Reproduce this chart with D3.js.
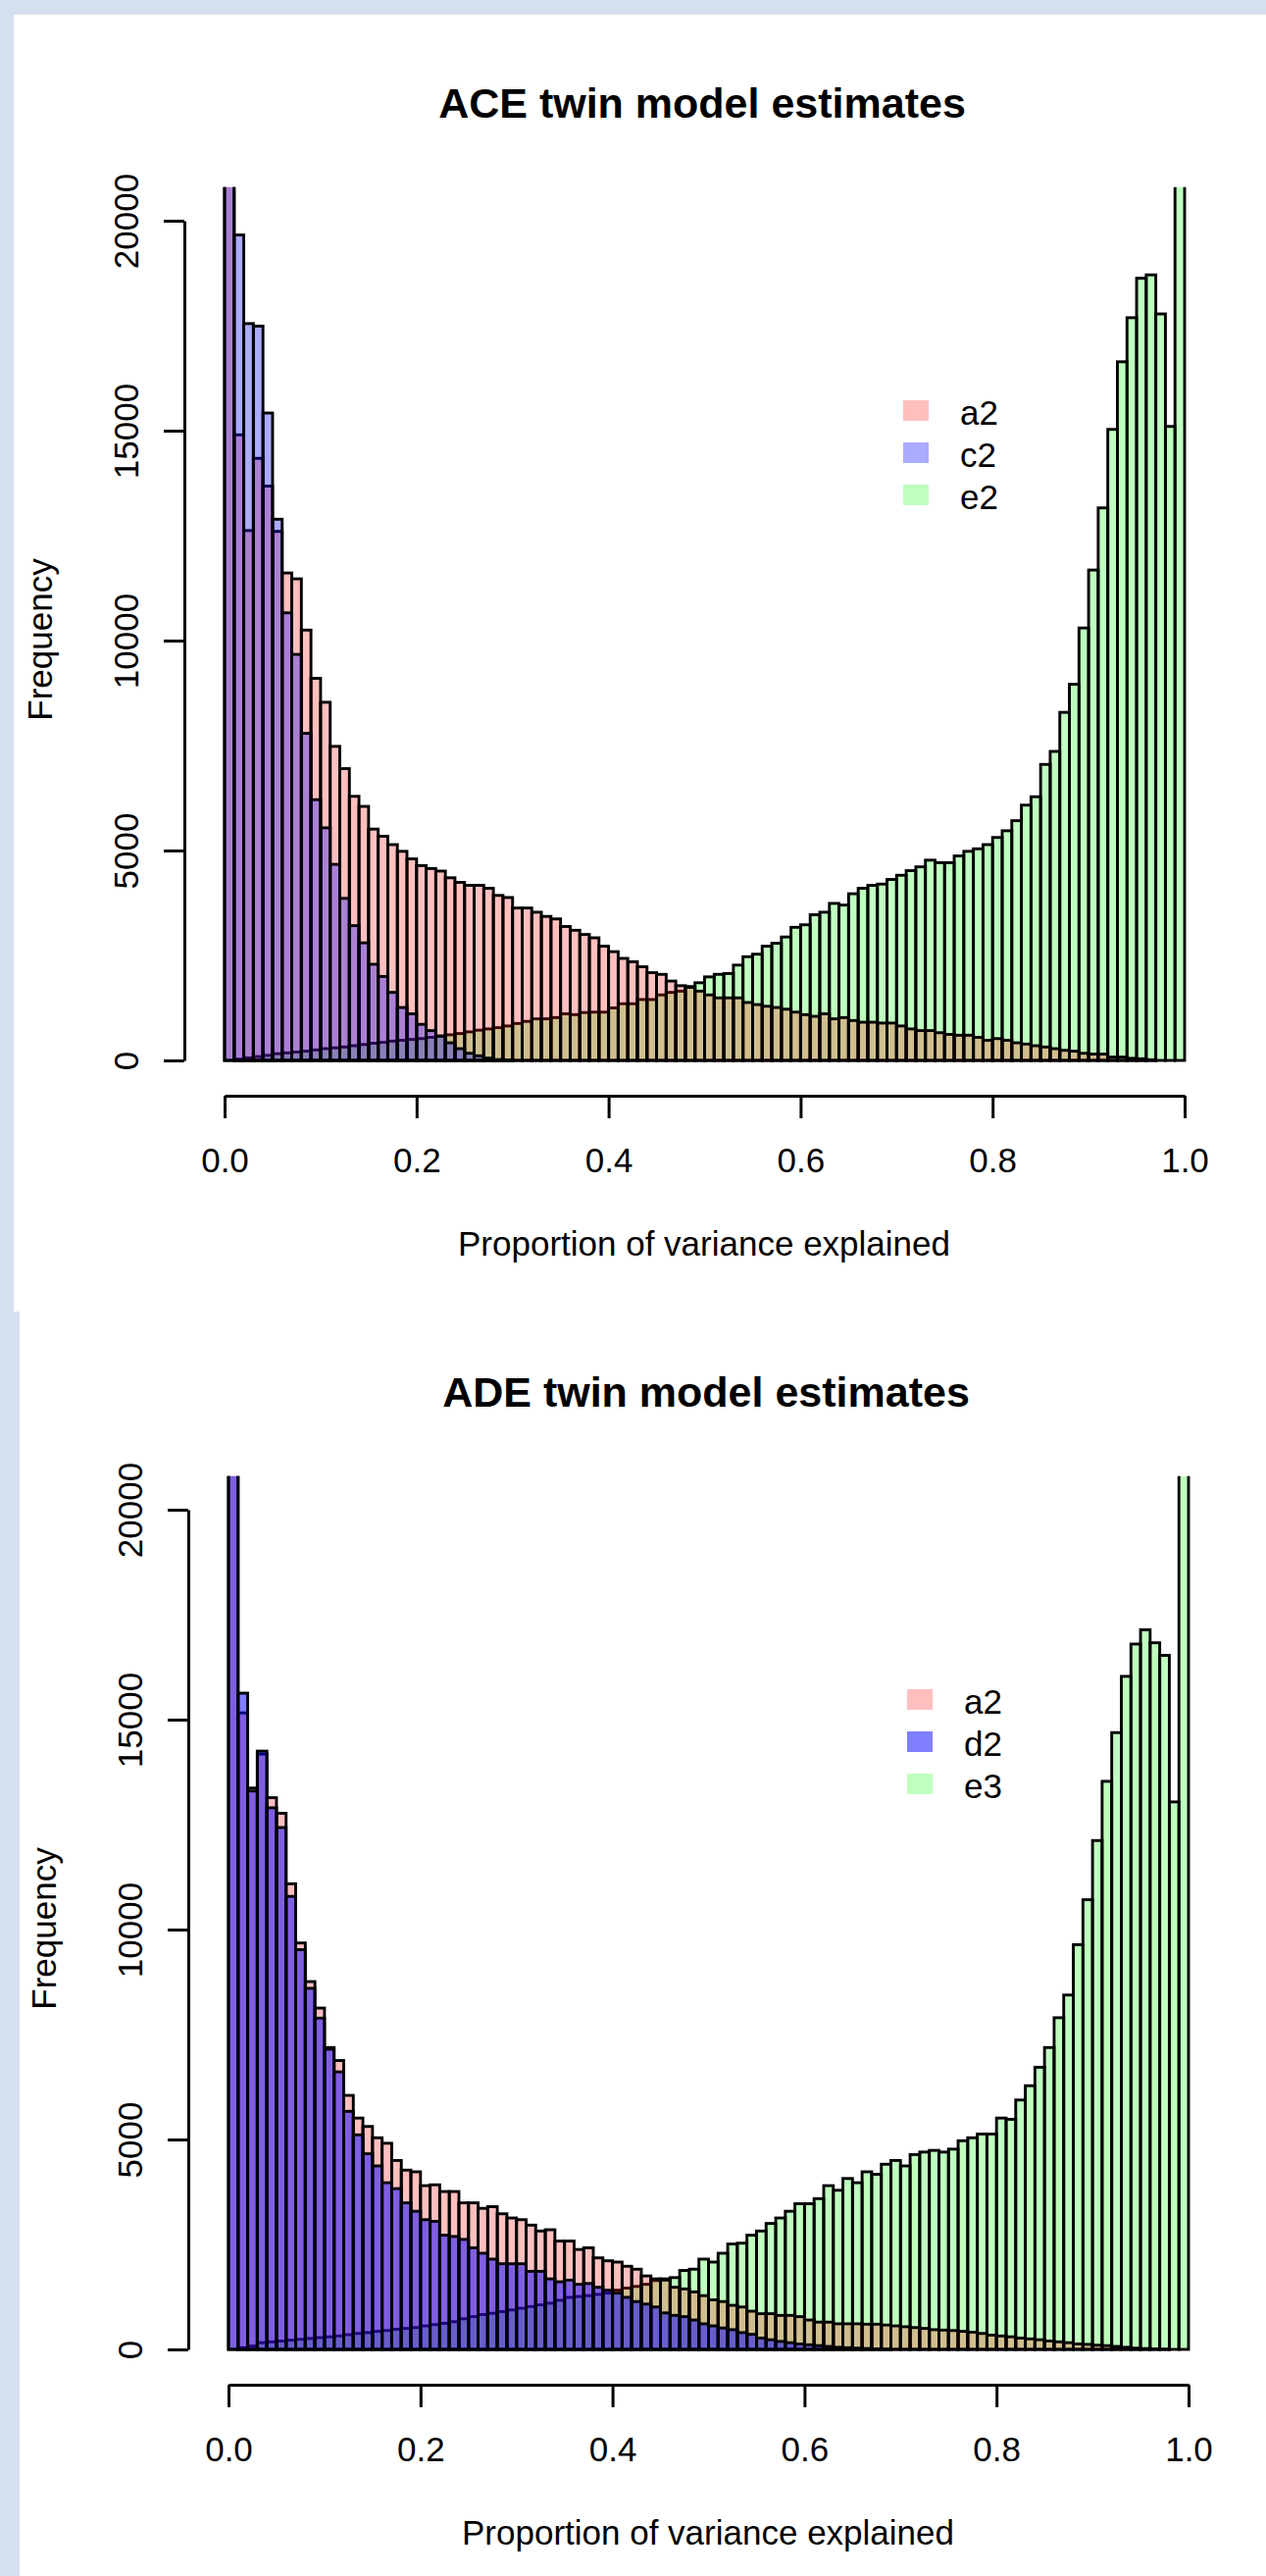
<!DOCTYPE html>
<html>
<head>
<meta charset="utf-8">
<script src="https://cdn.jsdelivr.net/npm/d3@7"></script>
<style>
  body { margin: 0; background: #d5e0ee; }
  svg { display: block; }
  text { font-family: "Liberation Sans", Arial, sans-serif; fill: #000; }
</style>
</head>
<body>
<svg id="chart" width="1291" height="2626"></svg>
<script>
// histogram counts, 100 bins of width 0.01 from 0 to 1
var aceA2 = [24000,14900,12620,14340,13680,12600,11610,11470,10250,9100,
  8530,7480,6950,6290,6050,5510,5340,5140,4980,4800,
  4640,4570,4510,4350,4240,4170,4170,4100,3930,3880,
  3630,3630,3530,3430,3370,3190,3100,3000,2920,2720,
  2590,2430,2350,2230,2090,2050,1890,1780,1740,1650,
  1560,1490,1490,1490,1380,1330,1290,1260,1220,1150,
  1090,1050,1110,990,1020,950,910,910,890,890,
  820,750,710,710,660,620,600,600,550,480,
  520,480,420,390,350,320,280,240,220,170,
  150,150,80,80,50,40,15,0,0,0];
var aceC2 = [30000,19660,17550,17490,15420,12890,10660,9670,7790,6210,
  5540,4670,3860,3210,2800,2290,2000,1620,1260,1110,
  860,710,580,420,280,170,110,55,20,10,
  0,0,0,0,0,0,0,0,0,0,
  0,0,0,0,0,0,0,0,0,0,
  0,0,0,0,0,0,0,0,0,0,
  0,0,0,0,0,0,0,0,0,0,
  0,0,0,0,0,0,0,0,0,0,
  0,0,0,0,0,0,0,0,0,0,
  0,0,0,0,0,0,0,0,0,0];
var aceE2 = [0,30,60,90,120,160,180,200,220,250,
  280,300,320,350,380,410,430,460,480,500,
  520,550,580,610,640,680,720,750,780,820,
  880,930,990,990,1020,1110,1090,1140,1150,1150,
  1250,1350,1350,1450,1450,1560,1620,1650,1760,1850,
  1990,2050,2070,2270,2470,2530,2720,2790,2940,3170,
  3230,3470,3530,3740,3700,3970,4100,4170,4200,4310,
  4410,4520,4610,4770,4710,4710,4870,4980,5040,5140,
  5310,5470,5710,6080,6280,7050,7360,8290,8960,10300,
  11680,13160,15030,16640,17690,18630,18710,17780,15100,32000];

var adeA2 = [26000,15160,13370,14180,13140,12770,11090,9680,8760,8130,
  7190,6880,6050,5510,5310,5040,4910,4500,4270,4230,
  3900,3920,3760,3760,3490,3490,3360,3400,3230,3130,
  3090,2960,2820,2850,2580,2580,2380,2420,2180,2110,
  2080,1980,1910,1750,1680,1650,1480,1440,1370,1280,
  1180,1140,1050,1010,910,850,850,810,810,780,
  700,650,650,610,610,610,600,600,580,560,
  540,520,500,470,460,450,430,410,380,340,
  320,300,270,250,230,200,180,160,130,120,
  100,90,70,50,30,20,10,5,0,0];
var adeD2 = [30000,15630,13300,14250,12900,12430,10790,9520,8600,7890,
  7150,6610,5670,5110,4660,4370,3970,3830,3490,3290,
  3090,3050,2720,2690,2620,2420,2290,2150,2040,2040,
  2040,1860,1860,1680,1610,1650,1550,1570,1480,1410,
  1340,1240,1140,1080,1010,870,810,780,700,610,
  560,510,470,400,360,270,230,190,160,130,
  110,90,70,50,40,30,20,10,5,0,
  0,0,0,0,0,0,0,0,0,0,
  0,0,0,0,0,0,0,0,0,0,
  0,0,0,0,0,0,0,0,0,0];
var adeE3 = [0,40,80,160,180,200,220,240,260,280,
  300,320,350,380,400,430,450,480,500,520,
  560,590,620,660,730,780,830,860,900,940,
  980,1020,1060,1100,1170,1240,1260,1280,1310,1340,
  1410,1460,1500,1550,1640,1680,1710,1880,1910,2150,
  2080,2290,2510,2530,2720,2820,3000,3130,3290,3470,
  3470,3590,3900,3790,4070,3970,4230,4170,4410,4500,
  4370,4640,4700,4740,4700,4770,4970,5040,5130,5130,
  5510,5480,5940,6280,6720,7190,7900,8440,9640,10710,
  12120,13530,14690,16030,16800,17140,16830,16530,13040,30000];

var xTicks = [0, 0.2, 0.4, 0.6, 0.8, 1.0];
var yTicks = [0, 5000, 10000, 15000, 20000];
var yMax = 20000;
var binWidth = 0.01;

var svg = d3.select('#chart');

// white panels behind each plot
svg.append('rect').attr('x', 14).attr('y', 15).attr('width', 1277).attr('height', 1322).attr('fill', '#fff');
svg.append('rect').attr('x', 20).attr('y', 1337).attr('width', 1271).attr('height', 1289).attr('fill', '#fff');

function drawPanel(p) {
    var g = svg.append('g').attr('transform', 'translate(' + p.dx + ',' + p.dy + ')');

    var x = d3.scaleLinear().domain([0, 1]).range([229, 1208]);
    var y = d3.scaleLinear().domain([0, yMax]).range([1081, 225]);

    // clip bars at the top of the plotting region (ylim + 4%)
    var clipId = 'clip' + p.id;
    g.append('clipPath').attr('id', clipId)
        .append('rect')
        .attr('x', 150).attr('y', y(yMax * 1.04))
        .attr('width', 1120).attr('height', 1200 - y(yMax * 1.04));

    var bars = g.append('g').attr('clip-path', 'url(#' + clipId + ')');
    p.series.forEach(function (s) {
        bars.append('g').selectAll('rect')
            .data(s.values)
            .enter()
            .append('rect')
            .attr('x', function (d, i) { return x(i * binWidth); })
            .attr('width', function (d, i) { return x((i + 1) * binWidth) - x(i * binWidth); })
            .attr('y', function (d) { return y(d); })
            .attr('height', function (d) { return y(0) - y(d); })
            .attr('fill', s.color)
            .attr('fill-opacity', s.alpha)
            .attr('stroke', '#000')
            .attr('stroke-width', 2.9);
    });

    // x axis
    var xAxis = g.append('g')
        .attr('transform', 'translate(0,1117)')
        .call(d3.axisBottom(x).tickValues(xTicks).tickSize(23).tickSizeOuter(0).tickFormat(d3.format('.1f')));
    xAxis.selectAll('path, line').attr('stroke-width', 3);
    xAxis.selectAll('text')
        .attr('y', 78).attr('dy', 0)
        .style('font-size', '35px')
        .style('font-family', '"Liberation Sans", Arial, sans-serif');

    // y axis, labels turned like R's default las = 0
    var yAxis = g.append('g')
        .attr('transform', 'translate(188,0)')
        .call(d3.axisLeft(y).tickValues(yTicks).tickSize(21).tickSizeOuter(0).tickFormat(d3.format('d')));
    yAxis.selectAll('path, line').attr('stroke-width', 3);
    yAxis.selectAll('text')
        .attr('x', 0).attr('y', -47).attr('dy', 0)
        .attr('transform', 'rotate(-90)')
        .attr('text-anchor', 'middle')
        .style('font-size', '35px')
        .style('font-family', '"Liberation Sans", Arial, sans-serif');

    // titles
    g.append('text')
        .attr('x', 716).attr('y', 120)
        .attr('text-anchor', 'middle')
        .style('font-size', '43px').style('font-weight', 'bold')
        .text(p.title);
    g.append('text')
        .attr('x', 718).attr('y', 1280)
        .attr('text-anchor', 'middle')
        .style('font-size', '35px')
        .text('Proportion of variance explained');
    g.append('text')
        .attr('transform', 'translate(53,652) rotate(-90)')
        .attr('text-anchor', 'middle')
        .style('font-size', '35px')
        .text('Frequency');

    // legend
    var leg = g.append('g').attr('transform', 'translate(921,408)');
    p.series.slice().sort(function (a, b) { return a.order - b.order; }).forEach(function (s, i) {
        leg.append('rect')
            .attr('x', 0).attr('y', i * 43)
            .attr('width', 26).attr('height', 21)
            .attr('fill', s.color).attr('fill-opacity', s.alpha);
        leg.append('text')
            .attr('x', 58).attr('y', i * 43 + 25)
            .style('font-size', '35px')
            .text(s.name);
    });
}

// draw order: e, then a, then c / d (as the overlaps show)
drawPanel({
    id: 'ace', dx: 0, dy: 0, title: 'ACE twin model estimates',
    series: [
        { name: 'e2', values: aceE2, color: '#00ff00', alpha: 0.25, order: 2 },
        { name: 'a2', values: aceA2, color: '#ff0000', alpha: 0.25, order: 0 },
        { name: 'c2', values: aceC2, color: '#0000ff', alpha: 0.33, order: 1 }
    ]
});
drawPanel({
    id: 'ade', dx: 4, dy: 1314, title: 'ADE twin model estimates',
    series: [
        { name: 'e3', values: adeE3, color: '#00ff00', alpha: 0.25, order: 2 },
        { name: 'a2', values: adeA2, color: '#ff0000', alpha: 0.25, order: 0 },
        { name: 'd2', values: adeD2, color: '#0000ff', alpha: 0.5, order: 1 }
    ]
});
</script>
</body>
</html>
